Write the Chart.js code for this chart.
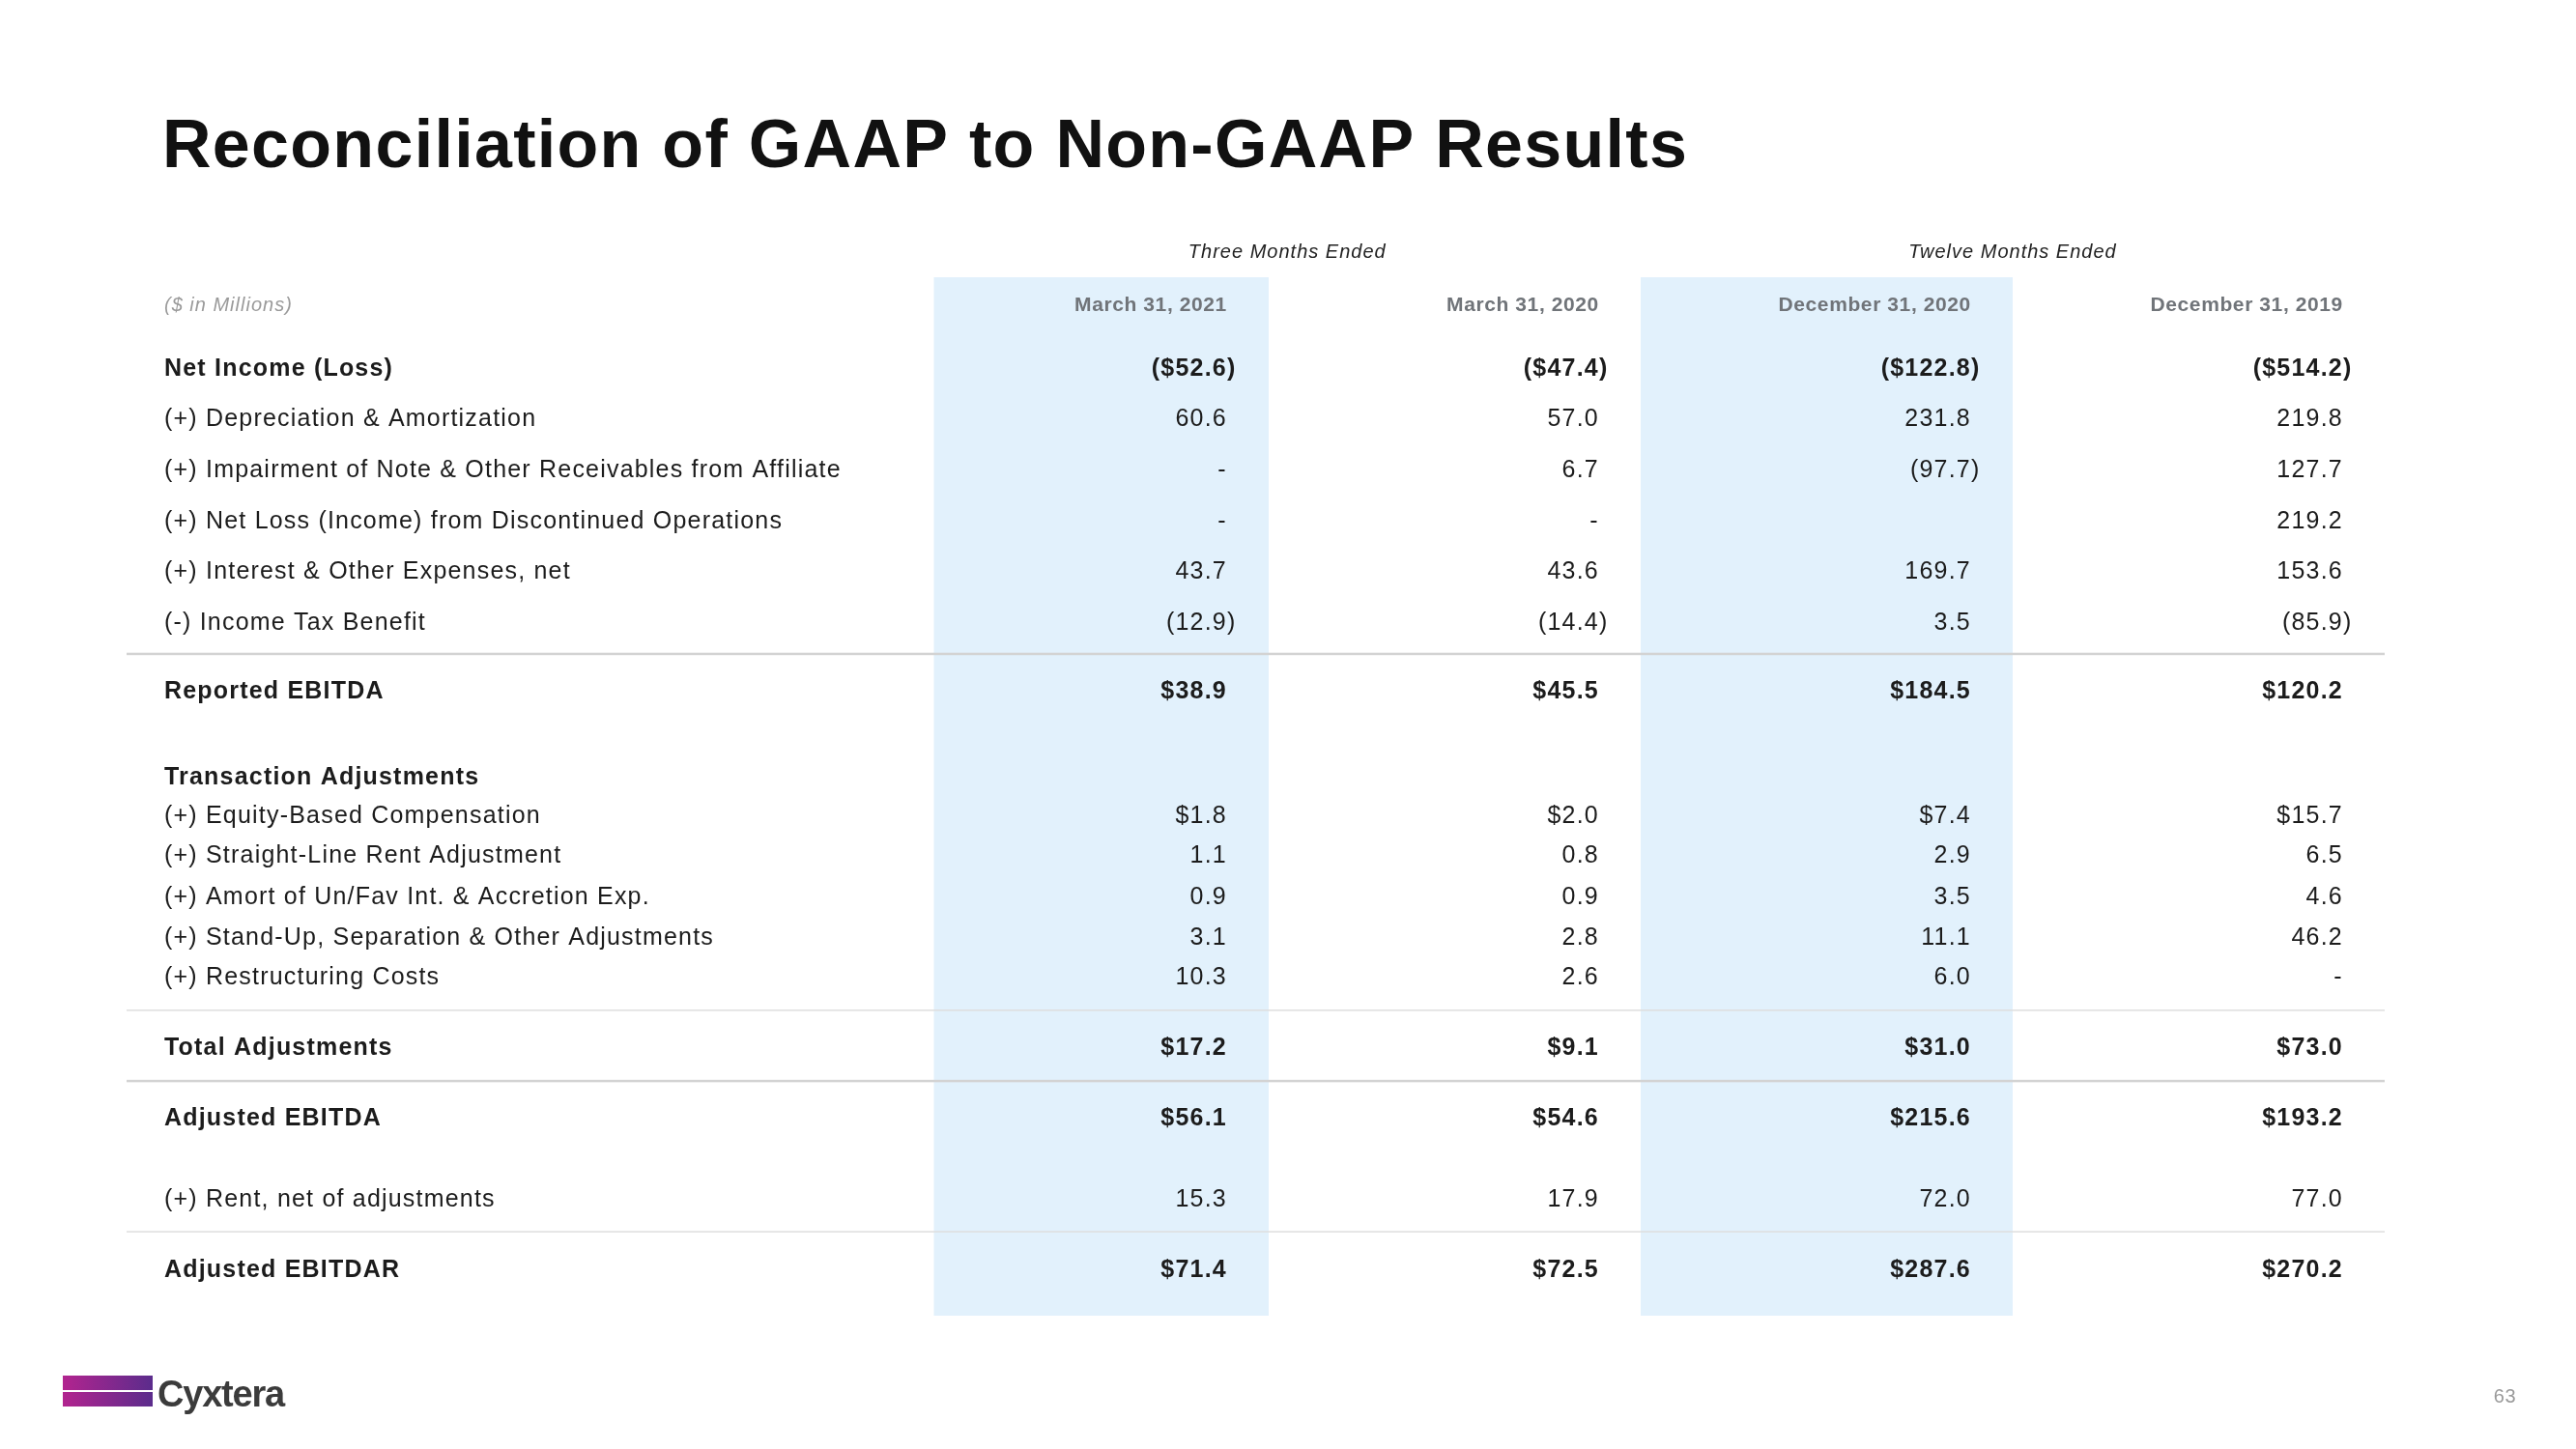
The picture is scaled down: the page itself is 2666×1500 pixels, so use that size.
<!DOCTYPE html>
<html>
<head>
<meta charset="utf-8">
<title>Reconciliation of GAAP to Non-GAAP Results</title>
<script src="https://cdn.jsdelivr.net/npm/chart.js@4.4.1/dist/chart.umd.min.js"></script>
<style>
  html, body { margin: 0; padding: 0; background: #ffffff; }
  #wrap { width: 2666px; height: 1500px; }
</style>
</head>
<body>
<div id="wrap"><canvas id="table" width="2666" height="1500"></canvas></div>
<script>
'use strict';

// ── Data ──────────────────────────────────────────────────────────────────────

const TITLE = 'Reconciliation of GAAP to Non-GAAP Results';
const UNITS = '($ in Millions)';
const PERIOD_GROUPS = ['Three Months Ended', 'Twelve Months Ended'];
const PERIODS = ['March 31, 2021', 'March 31, 2020', 'December 31, 2020', 'December 31, 2019'];

const ROW_LABELS = [
  'Net Income (Loss)',
  '(+) Depreciation & Amortization',
  '(+) Impairment of Note & Other Receivables from Affiliate',
  '(+) Net Loss (Income) from Discontinued Operations',
  '(+) Interest & Other Expenses, net',
  '(-) Income Tax Benefit',
  'Reported EBITDA',
  'Transaction Adjustments',
  '(+) Equity-Based Compensation',
  '(+) Straight-Line Rent Adjustment',
  '(+) Amort of Un/Fav Int. & Accretion Exp.',
  '(+) Stand-Up, Separation & Other Adjustments',
  '(+) Restructuring Costs',
  'Total Adjustments',
  'Adjusted EBITDA',
  '(+) Rent, net of adjustments',
  'Adjusted EBITDAR',
];

const MAR_2021 = ['($52.6)', '60.6', '-', '-', '43.7', '(12.9)', '$38.9', '', '$1.8', '1.1', '0.9', '3.1', '10.3', '$17.2', '$56.1', '15.3', '$71.4'];
const MAR_2020 = ['($47.4)', '57.0', '6.7', '-', '43.6', '(14.4)', '$45.5', '', '$2.0', '0.8', '0.9', '2.8', '2.6', '$9.1', '$54.6', '17.9', '$72.5'];
const DEC_2020 = ['($122.8)', '231.8', '(97.7)', '', '169.7', '3.5', '$184.5', '', '$7.4', '2.9', '3.5', '11.1', '6.0', '$31.0', '$215.6', '72.0', '$287.6'];
const DEC_2019 = ['($514.2)', '219.8', '127.7', '219.2', '153.6', '(85.9)', '$120.2', '', '$15.7', '6.5', '4.6', '46.2', '-', '$73.0', '$193.2', '77.0', '$270.2'];

const COLUMNS = [MAR_2021, MAR_2020, DEC_2020, DEC_2019];

// ── Layout (scale units: x = period column, y = row slot) ─────────────────────

const ROW_POS   = [1.76, 2.76, 3.76, 4.76, 5.76, 6.76, 8.10, 9.79, 10.55, 11.33, 12.14, 12.94, 13.72, 15.10, 16.49, 18.08, 19.47];
const BOLD_ROWS = [0, 6, 7, 13, 14, 16];
const HEAD_POS  = 0.53;
const GROUP_POS = -0.51;
const GROUP_X   = [1.05, 3.0];
const NUM_X     = 0.888;           // right edge of numbers inside a column
const SHADED    = [[0.1, 1], [2, 3]];
const RULES     = [[7.40, 2.5, '#d3d3d3'], [14.40, 1.5, '#dedede'], [15.79, 2.5, '#d3d3d3'], [18.75, 1.5, '#dedede']];
const Y_MAX     = 20.4;

const LABEL_X = 170;
const RULE_X0 = 131;
const FONT = "'Liberation Sans', Arial, sans-serif";
const INK = '#1c1c1c';
const SHADE = '#e2f1fc';

function text(ctx, str, x, yc, size, opts) {
  const o = opts || {};
  ctx.font = `${o.style || ''} ${o.weight || 'normal'} ${size}px ${FONT}`;
  ctx.fillStyle = o.color || INK;
  ctx.textAlign = o.align || 'left';
  ctx.textBaseline = 'alphabetic';
  if ('letterSpacing' in ctx) ctx.letterSpacing = (o.spacing != null ? o.spacing : 1.2) + 'px';
  ctx.fillText(str, x, yc + size * 0.358);
}

// number with hanging closing parenthesis
function num(ctx, str, x, yc, size, weight) {
  if (str.endsWith(')')) {
    text(ctx, str.slice(0, -1), x, yc, size, { align: 'right', weight });
    text(ctx, ')', x, yc, size, { align: 'left', weight });
  } else {
    text(ctx, str, x, yc, size, { align: 'right', weight });
  }
}

const tablePlugin = {
  id: 'tablePlugin',
  beforeDraw(chart) {
    const { ctx } = chart;
    const x = chart.scales.x;
    const y = chart.scales.y;
    ctx.save();
    ctx.fillStyle = '#ffffff';
    ctx.fillRect(0, 0, chart.width, chart.height);

    // shaded columns
    ctx.fillStyle = SHADE;
    SHADED.forEach(([a, b]) => {
      const x0 = x.getPixelForValue(a);
      const x1 = x.getPixelForValue(b);
      const y0 = y.getPixelForValue(0);
      const y1 = y.getPixelForValue(Y_MAX);
      ctx.fillRect(x0, y0, x1 - x0, y1 - y0);
    });

    // separators
    RULES.forEach(([v, w, c]) => {
      const py = y.getPixelForValue(v);
      ctx.fillStyle = c;
      ctx.fillRect(RULE_X0, py - w / 2, x.right - RULE_X0, w);
    });
    ctx.restore();
  },
  afterDraw(chart) {
    const { ctx } = chart;
    const x = chart.scales.x;
    const y = chart.scales.y;
    ctx.save();

    // title
    text(ctx, TITLE, 168, 148, 70, { weight: 'bold', color: '#111111', spacing: 1.3 });

    // headers
    PERIOD_GROUPS.forEach((g, i) => {
      text(ctx, g, x.getPixelForValue(GROUP_X[i]), y.getPixelForValue(GROUP_POS), 20,
        { style: 'italic', align: 'center', color: '#222222', spacing: 1 });
    });
    text(ctx, UNITS, LABEL_X, y.getPixelForValue(HEAD_POS), 20, { style: 'italic', color: '#9a9a9a', spacing: 1 });
    PERIODS.forEach((p, k) => {
      text(ctx, p, x.getPixelForValue(k + NUM_X), y.getPixelForValue(HEAD_POS), 21,
        { weight: 'bold', align: 'right', color: '#707479', spacing: 0.6 });
    });

    // rows
    ROW_LABELS.forEach((label, r) => {
      const bold = BOLD_ROWS.includes(r) ? 'bold' : 'normal';
      const py = y.getPixelForValue(ROW_POS[r]);
      text(ctx, label, LABEL_X, py, 25, { weight: bold });
      COLUMNS.forEach((col, k) => {
        if (col[r]) num(ctx, col[r], x.getPixelForValue(k + NUM_X), py, 25, bold);
      });
    });

    // footer: logo + page number
    const g = ctx.createLinearGradient(65, 0, 158, 0);
    g.addColorStop(0, '#b2248f');
    g.addColorStop(1, '#5b2c8c');
    ctx.fillStyle = g;
    ctx.fillRect(65, 1424, 93, 32);
    ctx.fillStyle = '#ffffff';
    ctx.fillRect(65, 1439, 93, 2);
    text(ctx, 'Cyxtera', 163, 1442, 38, { weight: 'bold', color: '#3b3b3b', spacing: -1.2 });
    text(ctx, '63', 2604, 1445, 20, { align: 'right', color: '#9a9a9a', spacing: 0.5 });

    ctx.restore();
  },
};

new Chart(document.getElementById('table'), {
  type: 'bar',
  data: { labels: [], datasets: [] },
  options: {
    responsive: false,
    animation: false,
    devicePixelRatio: 1,
    layout: { padding: { left: 928, right: 198, top: 287, bottom: 138 } },
    plugins: { legend: { display: false }, tooltip: { enabled: false }, title: { display: false } },
    scales: {
      x: { type: 'linear', min: 0, max: PERIODS.length, offset: false, display: false },
      y: { type: 'linear', min: 0, max: Y_MAX, reverse: true, display: false },
    },
  },
  plugins: [tablePlugin],
});
</script>
</body>
</html>
